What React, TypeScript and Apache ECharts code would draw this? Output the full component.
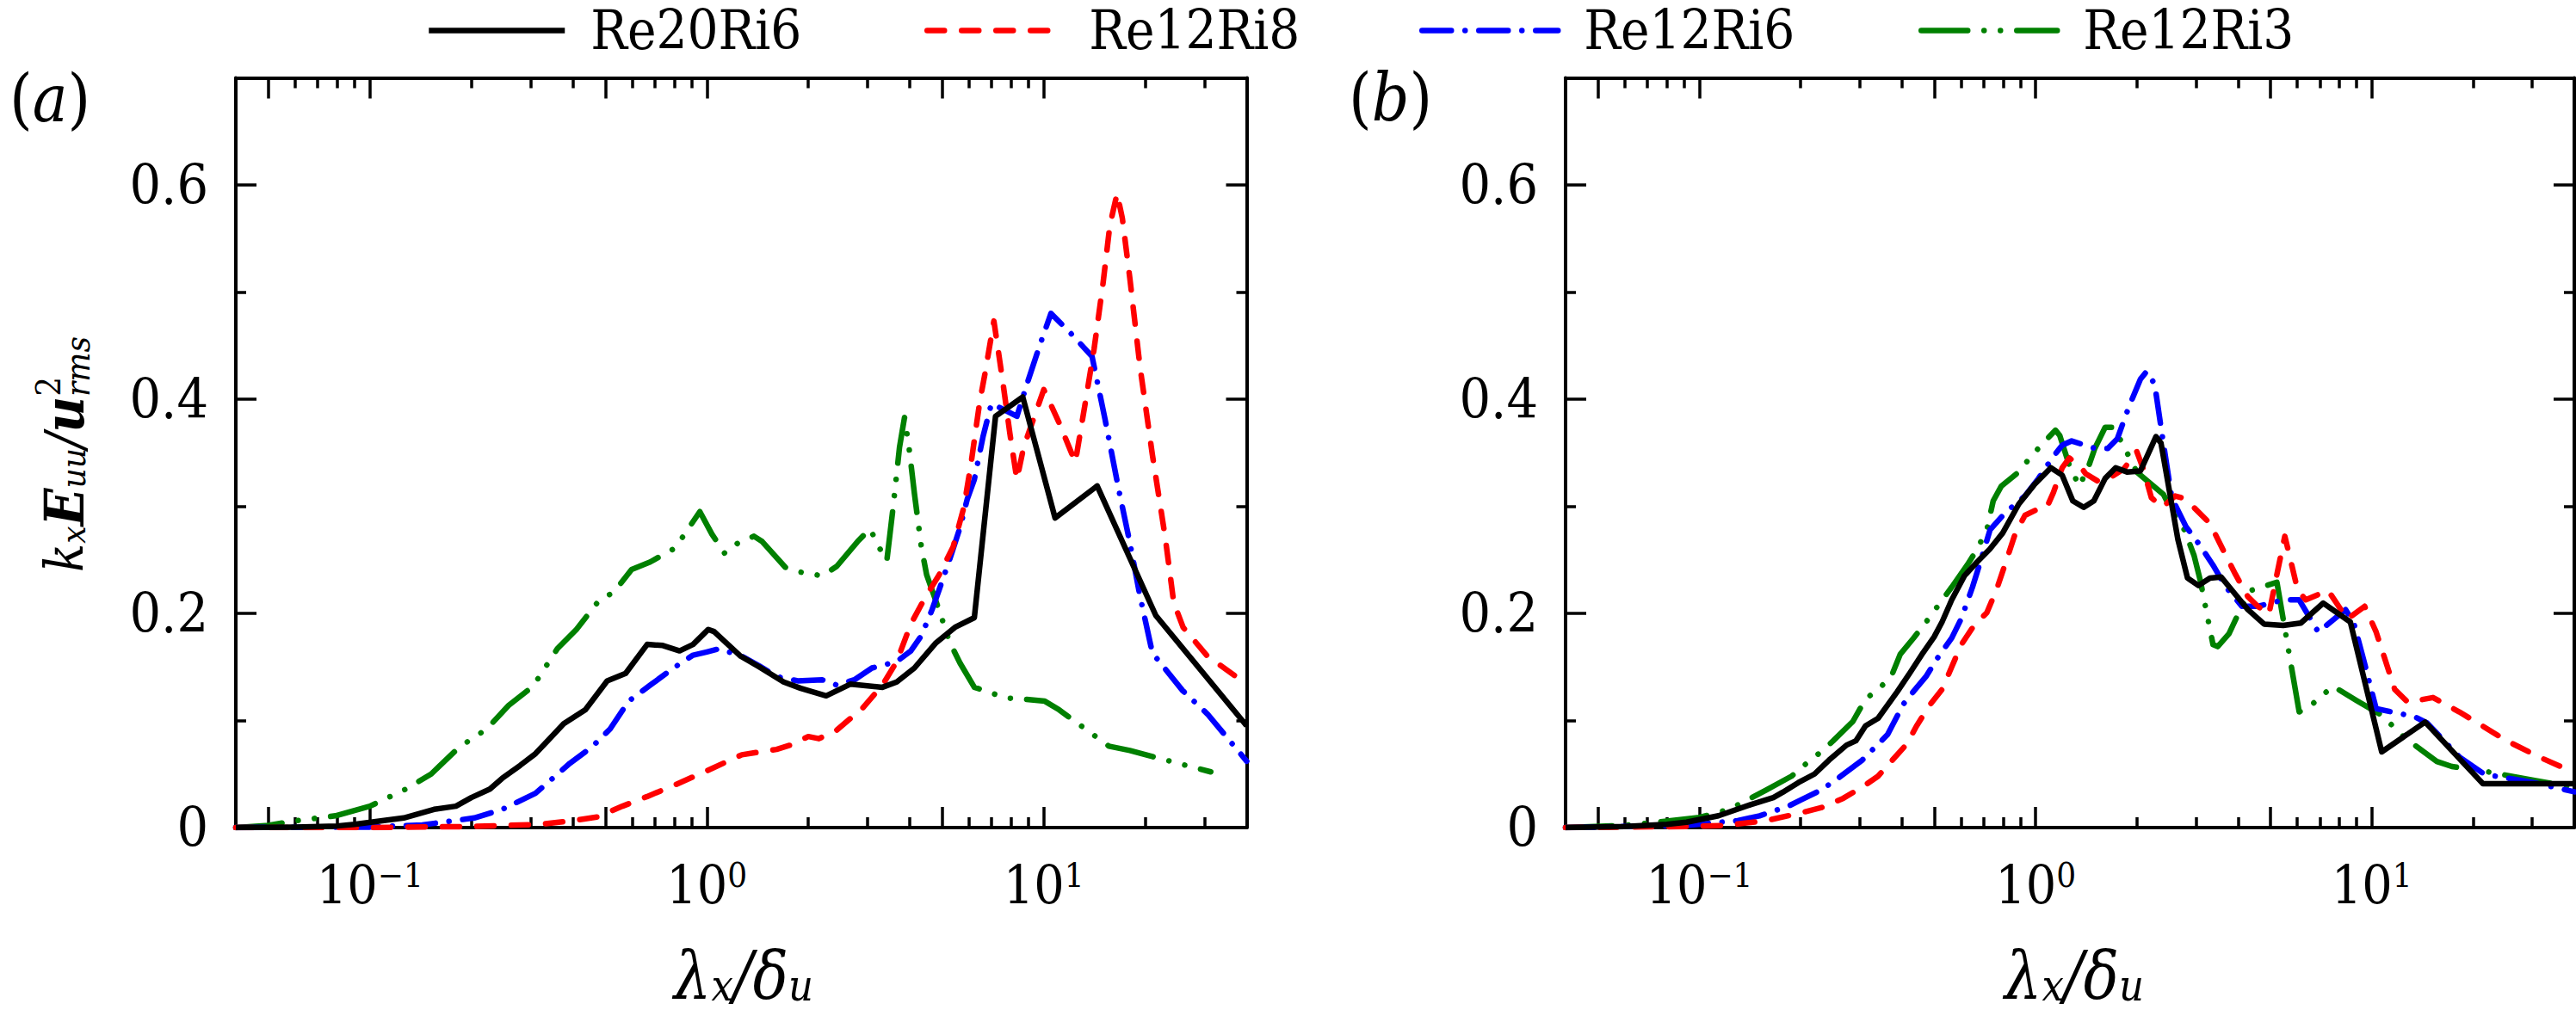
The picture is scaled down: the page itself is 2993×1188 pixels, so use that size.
import React, { useEffect, useRef } from 'react';
import * as echarts from 'echarts';

const FONT = "'DejaVu Serif Condensed', 'Liberation Serif', 'Times New Roman', Times, 'DejaVu Serif', serif";

const SERIES_NAMES = ['Re20Ri6', 'Re12Ri8', 'Re12Ri6', 'Re12Ri3'];
const SERIES_COLORS = ['#000000', '#ff0000', '#0000ff', '#008000'];
const LEGEND_LEFT = [495, 1074, 1649, 2229];

const X_MIN = 0.04;
const X_MAX = 40;
const X_LABEL_TICKS = [0.1, 1, 10];
const X_MAJOR_TICKS = [0.05, 0.1, 0.5, 1, 5, 10];
const X_MINOR_TICKS = [0.06, 0.07, 0.08, 0.09, 0.2, 0.3, 0.4, 0.6, 0.7, 0.8, 0.9, 2, 3, 4, 6, 7, 8, 9, 20, 30];
const Y_MIN = 0;
const Y_MAX = 0.7;
const Y_MAJOR_TICKS = [0, 0.2, 0.4, 0.6];
const Y_MINOR_TICKS = [0.1, 0.3, 0.5];

// ---------- panel (a) ----------
const A_RE20RI6_X = [0.04, 0.06, 0.08, 0.09, 0.126, 0.155, 0.18, 0.2, 0.227, 0.247, 0.279, 0.31, 0.339, 0.376, 0.436, 0.506, 0.574, 0.665, 0.74, 0.83, 0.91, 1.01, 1.05, 1.26, 1.43, 1.69, 1.9, 2.26, 2.67, 3.32, 3.66, 4.13, 4.77, 5.45, 6.22, 7.19, 8.66, 10.8, 14.4, 21.5, 40];
const A_RE20RI6_Y = [0, 0.0005, 0.0015, 0.003, 0.009, 0.017, 0.02, 0.028, 0.036, 0.046, 0.058, 0.069, 0.082, 0.097, 0.11, 0.137, 0.144, 0.171, 0.17, 0.165, 0.171, 0.185, 0.183, 0.16, 0.15, 0.136, 0.13, 0.123, 0.134, 0.131, 0.136, 0.149, 0.172, 0.187, 0.196, 0.384, 0.402, 0.289, 0.319, 0.198, 0.095];

const A_RE12RI8_X = [0.04, 0.1, 0.2, 0.318, 0.39, 0.474, 0.562, 0.665, 0.806, 1.0, 1.27, 1.61, 1.77, 2.0, 2.15, 2.43, 2.67, 2.87, 3.32, 3.66, 4.03, 4.43, 4.89, 5.38, 5.79, 6.07, 6.45, 6.69, 7.11, 7.55, 7.93, 8.32, 8.71, 9.38, 10.0, 11.1, 12.4, 13.3, 14.1, 15.0, 15.7, 16.5, 17.1, 18.0, 19.3, 21.0, 22.9, 24.3, 25.9, 30.6, 40];
const A_RE12RI8_Y = [0, 0, 0.001, 0.003, 0.006, 0.01, 0.02, 0.029, 0.04, 0.053, 0.068, 0.073, 0.077, 0.085, 0.083, 0.091, 0.102, 0.11, 0.133, 0.155, 0.19, 0.214, 0.236, 0.262, 0.299, 0.338, 0.397, 0.424, 0.473, 0.417, 0.368, 0.325, 0.355, 0.384, 0.409, 0.378, 0.341, 0.398, 0.447, 0.509, 0.562, 0.592, 0.569, 0.513, 0.43, 0.348, 0.272, 0.21, 0.187, 0.16, 0.134];

const A_RE12RI6_X = [0.04, 0.1, 0.143, 0.204, 0.247, 0.31, 0.392, 0.455, 0.516, 0.586, 0.679, 0.805, 0.91, 1.0, 1.09, 1.27, 1.43, 1.61, 1.86, 2.2, 2.43, 2.74, 3.09, 3.66, 4.03, 4.33, 4.66, 4.89, 5.25, 5.64, 5.93, 6.22, 6.6, 6.99, 8.32, 8.91, 9.72, 10.5, 11.9, 13.9, 15.2, 16.7, 18.0, 19.3, 21.0, 25.8, 30.6, 40];
const A_RE12RI6_Y = [0, 0.0005, 0.0025, 0.009, 0.017, 0.032, 0.06, 0.075, 0.092, 0.118, 0.133, 0.15, 0.161, 0.164, 0.167, 0.16, 0.151, 0.141, 0.137, 0.138, 0.133, 0.138, 0.149, 0.155, 0.165, 0.179, 0.2035, 0.222, 0.25, 0.28, 0.307, 0.325, 0.365, 0.396, 0.384, 0.414, 0.45, 0.48, 0.463, 0.44, 0.381, 0.315, 0.266, 0.216, 0.163, 0.128, 0.106, 0.062];

const A_RE12RI3_X = [0.04, 0.05, 0.059, 0.079, 0.1, 0.128, 0.152, 0.184, 0.222, 0.258, 0.305, 0.36, 0.41, 0.484, 0.527, 0.598, 0.679, 0.805, 0.953, 1.035, 1.13, 1.24, 1.38, 1.46, 1.71, 1.9, 2.2, 2.43, 2.8, 3.05, 3.24, 3.42, 3.57, 3.73, 3.86, 3.98, 4.13, 4.33, 4.49, 4.89, 5.25, 5.64, 6.22, 7.73, 8.71, 10.07, 11.1, 15.6, 18.0, 21.8, 31.3];
const A_RE12RI3_Y = [0, 0.002, 0.006, 0.011, 0.02, 0.036, 0.05, 0.075, 0.092, 0.114, 0.132, 0.167, 0.185, 0.214, 0.219, 0.241, 0.248, 0.261, 0.295, 0.274, 0.256, 0.266, 0.272, 0.267, 0.243, 0.2385, 0.235, 0.244, 0.267, 0.279, 0.262, 0.249, 0.299, 0.355, 0.383, 0.355, 0.312, 0.262, 0.236, 0.203, 0.1735, 0.1536, 0.131, 0.121, 0.12, 0.118, 0.11, 0.076, 0.072, 0.065, 0.052];

// ---------- panel (b) ----------
const B_RE20RI6_X = [0.04, 0.06, 0.08, 0.0916, 0.114, 0.142, 0.166, 0.177, 0.197, 0.22, 0.243, 0.274, 0.292, 0.312, 0.34, 0.388, 0.424, 0.462, 0.499, 0.527, 0.563, 0.614, 0.67, 0.731, 0.798, 0.891, 0.99, 1.11, 1.2, 1.29, 1.39, 1.49, 1.61, 1.73, 1.87, 2.05, 2.28, 2.36, 2.65, 2.83, 3.05, 3.3, 3.56, 3.84, 4.28, 4.78, 5.45, 6.15, 7.17, 8.63, 10.7, 14.4, 21.4, 40];
const B_RE20RI6_Y = [0, 0.001, 0.003, 0.005, 0.011, 0.0214, 0.028, 0.033, 0.042, 0.05, 0.063, 0.077, 0.081, 0.095, 0.102, 0.127, 0.145, 0.163, 0.178, 0.192, 0.2126, 0.235, 0.248, 0.26, 0.275, 0.302, 0.32, 0.336, 0.329, 0.305, 0.299, 0.305, 0.326, 0.336, 0.332, 0.333, 0.365, 0.359, 0.269, 0.233, 0.226, 0.233, 0.234, 0.2215, 0.2035, 0.19, 0.1887, 0.191, 0.2096, 0.192, 0.0707, 0.0985, 0.041, 0.041];

const B_RE12RI8_X = [0.04, 0.0916, 0.119, 0.158, 0.193, 0.23, 0.268, 0.305, 0.34, 0.372, 0.414, 0.442, 0.483, 0.527, 0.563, 0.601, 0.656, 0.716, 0.764, 0.816, 0.871, 0.93, 1.02, 1.08, 1.13, 1.2, 1.26, 1.35, 1.41, 1.54, 1.68, 1.83, 2.0, 2.09, 2.21, 2.38, 2.6, 2.71, 2.89, 3.3, 3.6, 3.93, 4.28, 4.58, 4.94, 5.22, 5.51, 5.69, 6.02, 6.36, 7.41, 8.45, 9.52, 10.3, 11.7, 12.8, 15.2, 18.2, 25.2, 31.4, 40];
const B_RE12RI8_Y = [0, 0.001, 0.002, 0.0065, 0.0125, 0.0185, 0.0274, 0.0378, 0.048, 0.0618, 0.078, 0.0946, 0.114, 0.129, 0.15, 0.1708, 0.1887, 0.2006, 0.2215, 0.248, 0.275, 0.2916, 0.2977, 0.299, 0.313, 0.336, 0.345, 0.338, 0.3304, 0.323, 0.3275, 0.335, 0.351, 0.335, 0.308, 0.299, 0.3096, 0.308, 0.302, 0.284, 0.26, 0.2364, 0.2155, 0.2066, 0.199, 0.2364, 0.272, 0.254, 0.2215, 0.2126, 0.2215, 0.1946, 0.2066, 0.1826, 0.129, 0.117, 0.1214, 0.108, 0.081, 0.066, 0.0514];

const B_RE12RI6_X = [0.04, 0.0916, 0.13, 0.151, 0.184, 0.201, 0.23, 0.256, 0.305, 0.333, 0.363, 0.405, 0.433, 0.472, 0.515, 0.563, 0.601, 0.649, 0.685, 0.732, 0.816, 0.93, 1.02, 1.12, 1.2, 1.28, 1.5, 1.64, 1.75, 1.89, 2.05, 2.14, 2.26, 2.38, 2.54, 2.8, 3.09, 3.37, 3.68, 4.11, 4.58, 5.45, 6.08, 6.93, 8.35, 8.82, 9.52, 10.3, 13.4, 14.6, 18.2, 21.6, 30.0, 40];
const B_RE12RI6_Y = [0, 0.002, 0.0065, 0.011, 0.02, 0.026, 0.035, 0.045, 0.063, 0.075, 0.087, 0.1155, 0.127, 0.141, 0.16, 0.177, 0.195, 0.2245, 0.248, 0.278, 0.2946, 0.3096, 0.326, 0.345, 0.357, 0.361, 0.354, 0.354, 0.363, 0.392, 0.4186, 0.426, 0.414, 0.366, 0.308, 0.281, 0.263, 0.245, 0.2245, 0.2066, 0.2066, 0.2126, 0.2126, 0.1826, 0.2035, 0.192, 0.153, 0.111, 0.1036, 0.0976, 0.066, 0.0498, 0.0423, 0.0334];

const B_RE12RI3_X = [0.04, 0.06, 0.08, 0.1, 0.114, 0.125, 0.142, 0.158, 0.188, 0.206, 0.23, 0.25, 0.286, 0.312, 0.34, 0.372, 0.396, 0.433, 0.472, 0.515, 0.563, 0.627, 0.67, 0.716, 0.748, 0.79, 0.891, 0.972, 1.06, 1.146, 1.18, 1.26, 1.35, 1.44, 1.5, 1.61, 1.71, 1.87, 2.0, 2.4, 2.54, 2.77, 2.96, 3.09, 3.37, 3.48, 3.76, 4.06, 4.38, 5.22, 5.45, 6.08, 6.5, 7.66, 9.02, 10.7, 12.5, 15.6, 17.3, 21.6, 30.7, 40];
const B_RE12RI3_Y = [0, 0.002, 0.006, 0.0095, 0.014, 0.0185, 0.0274, 0.035, 0.048, 0.0587, 0.0707, 0.081, 0.099, 0.12, 0.129, 0.141, 0.162, 0.1767, 0.1917, 0.208, 0.2245, 0.2454, 0.26, 0.278, 0.305, 0.3186, 0.332, 0.347, 0.36, 0.371, 0.366, 0.338, 0.3186, 0.338, 0.354, 0.3737, 0.3737, 0.35, 0.332, 0.311, 0.296, 0.278, 0.254, 0.2305, 0.1708, 0.169, 0.181, 0.2035, 0.2215, 0.229, 0.1946, 0.108, 0.1125, 0.132, 0.1185, 0.105, 0.084, 0.0618, 0.057, 0.0527, 0.0438, 0.0378];

const PANEL_A = [
  [A_RE20RI6_X, A_RE20RI6_Y],
  [A_RE12RI8_X, A_RE12RI8_Y],
  [A_RE12RI6_X, A_RE12RI6_Y],
  [A_RE12RI3_X, A_RE12RI3_Y],
];
const PANEL_B = [
  [B_RE20RI6_X, B_RE20RI6_Y],
  [B_RE12RI8_X, B_RE12RI8_Y],
  [B_RE12RI6_X, B_RE12RI6_Y],
  [B_RE12RI3_X, B_RE12RI3_Y],
];

const LINE_TYPES: any[] = ['solid', [20, 20], [34, 16, 0.01, 16], [54, 19, 0.01, 19, 0.01, 19]];
const LINE_WIDTH = 6.5;

const L = (v: number) => Math.log10(v);

const AXIS_COLOR = '#000';
const tickStyle = { color: AXIS_COLOR, width: 3.5 };
const lineStyleAxis = { color: AXIS_COLOR, width: 4 };

function expText(v: number) {
  const e = Math.round(v);
  return e < 0 ? '\u2212' + Math.abs(e) : String(e);
}

function makeXAxes(gridIndex: number) {
  const base = {
    type: 'value',
    gridIndex,
    min: L(X_MIN),
    max: L(X_MAX),
    splitLine: { show: false },
  };
  const major = { show: true, inside: true, length: 24, lineStyle: tickStyle, customValues: X_MAJOR_TICKS.map(L) };
  const minor = { show: true, inside: true, length: 12, lineStyle: tickStyle, customValues: X_MINOR_TICKS.map(L) };
  return [
    {
      ...base,
      position: 'bottom',
      axisLine: { show: true, onZero: false, lineStyle: lineStyleAxis },
      axisTick: major,
      axisLabel: {
        show: true,
        margin: 35,
        customValues: X_LABEL_TICKS.map(L),
        formatter: (v: number) => `{b|10}{s|${expText(v)}}`,
        rich: {
          b: { fontFamily: FONT, fontSize: 62, lineHeight: 62, color: '#000' },
          s: { fontFamily: FONT, fontSize: 40, lineHeight: 40, color: '#000', verticalAlign: 'top' },
        },
      },
    },
    { ...base, position: 'bottom', axisLine: { show: false, onZero: false }, axisTick: minor, axisLabel: { show: false } },
    { ...base, position: 'top', axisLine: { show: true, onZero: false, lineStyle: lineStyleAxis }, axisTick: major, axisLabel: { show: false } },
    { ...base, position: 'top', axisLine: { show: false, onZero: false }, axisTick: minor, axisLabel: { show: false } },
  ];
}

function makeYAxes(gridIndex: number) {
  const base = {
    type: 'value',
    gridIndex,
    min: Y_MIN,
    max: Y_MAX,
    splitLine: { show: false },
  };
  const major = { show: true, inside: true, length: 24, lineStyle: tickStyle, customValues: Y_MAJOR_TICKS };
  const minor = { show: true, inside: true, length: 12, lineStyle: tickStyle, customValues: Y_MINOR_TICKS };
  return [
    {
      ...base,
      position: 'left',
      axisLine: { show: true, onZero: false, lineStyle: lineStyleAxis },
      axisTick: major,
      axisLabel: {
        show: true,
        margin: 32,
        customValues: Y_MAJOR_TICKS,
        formatter: (v: number) => (v === 0 ? '0' : v.toFixed(1)),
        fontFamily: FONT,
        fontSize: 64,
        color: '#000',
      },
    },
    { ...base, position: 'left', axisLine: { show: false, onZero: false }, axisTick: minor, axisLabel: { show: false } },
    { ...base, position: 'right', axisLine: { show: true, onZero: false, lineStyle: lineStyleAxis }, axisTick: major, axisLabel: { show: false } },
    { ...base, position: 'right', axisLine: { show: false, onZero: false }, axisTick: minor, axisLabel: { show: false } },
  ];
}

function makeSeries(panel: number[][][], xAxisIndex: number, yAxisIndex: number) {
  const order = [3, 2, 1, 0];
  return order.map((i) => {
    const [xs, ys] = panel[i];
    return {
      type: 'line',
      name: SERIES_NAMES[i],
      xAxisIndex,
      yAxisIndex,
      data: xs.map((x, k) => [L(x), ys[k]]),
      symbol: 'none',
      showSymbol: false,
      silent: true,
      z: 3 + (3 - i),
      itemStyle: { color: SERIES_COLORS[i] },
      lineStyle: {
        color: SERIES_COLORS[i],
        width: LINE_WIDTH,
        type: LINE_TYPES[i],
        cap: i === 0 ? 'butt' : 'round',
        join: 'round',
      },
    };
  });
}

const titleRich = {
  i: { fontFamily: FONT, fontSize: 76, lineHeight: 76, fontStyle: 'italic', color: '#000' },
  sub: { fontFamily: FONT, fontSize: 50, lineHeight: 28, fontStyle: 'italic', color: '#000', verticalAlign: 'bottom' },
};

const yTitleRich = {
  i: { fontFamily: FONT, fontSize: 61, lineHeight: 62, fontStyle: 'italic', color: '#000' },
  bi: { fontFamily: FONT, fontSize: 64, lineHeight: 62, fontStyle: 'italic', fontWeight: 'bold', color: '#000' },
  sub: { fontFamily: FONT, fontSize: 40, lineHeight: 18, fontStyle: 'italic', color: '#000', verticalAlign: 'bottom' },
  sup: { fontFamily: FONT, fontSize: 40, lineHeight: 2, fontStyle: 'normal', color: '#000', verticalAlign: 'top', padding: [-7, 0, 0, 0] },
  subn: { fontFamily: FONT, fontSize: 40, lineHeight: 14, fontStyle: 'italic', color: '#000', verticalAlign: 'bottom', padding: [0, 0, -5, -23] },
};

const panelRich = {
  p: { fontFamily: FONT, fontSize: 76, lineHeight: 76, color: '#000' },
  l: { fontFamily: FONT, fontSize: 76, lineHeight: 76, fontStyle: 'italic', color: '#000' },
};

function buildOption(): any {
  return {
    animation: false,
    backgroundColor: '#ffffff',
    textStyle: { fontFamily: FONT },
    grid: [
      { left: 274, top: 90.5, width: 1174.5, height: 871.5, containLabel: false },
      { left: 1819, top: 90.5, right: 2, height: 871.5, containLabel: false },
    ],
    xAxis: [...makeXAxes(0), ...makeXAxes(1)],
    yAxis: [...makeYAxes(0), ...makeYAxes(1)],
    legend: SERIES_NAMES.map((n, i) => ({
      data: [n],
      left: LEGEND_LEFT[i],
      top: 4,
      padding: 0,
      itemWidth: 158,
      itemHeight: 20,
      itemGap: 0,
      selectedMode: false,
      itemStyle: { opacity: 0, borderWidth: 0 },
      lineStyle: { width: LINE_WIDTH },
      formatter: (name: string) => `{t|${name}}`,
      textStyle: {
        fontFamily: FONT,
        fontSize: 63,
        color: '#000',
        rich: {
          t: { fontFamily: FONT, fontSize: 63, lineHeight: 66, color: '#000', padding: [0, 0, 0, 25] },
        },
      },
    })),
    series: [...makeSeries(PANEL_A, 0, 0), ...makeSeries(PANEL_B, 4, 4)],
    graphic: [
      { type: 'text', x: 11, y: 114, style: { text: '{p|(}{l|a}{p|)}', rich: panelRich, align: 'left', verticalAlign: 'middle' } },
      { type: 'text', x: 1567, y: 113, style: { text: '{p|(}{l|b}{p|)}', rich: panelRich, align: 'left', verticalAlign: 'middle' } },
      { type: 'text', x: 864, y: 1133, style: { text: '{i|λ}{sub|x}{i|/δ}{sub|u}', rich: titleRich, align: 'center', verticalAlign: 'middle' } },
      { type: 'text', x: 2410, y: 1133, style: { text: '{i|λ}{sub|x}{i|/δ}{sub|u}', rich: titleRich, align: 'center', verticalAlign: 'middle' } },
      {
        type: 'text', x: 74, y: 528, rotation: Math.PI / 2,
        style: { text: '{i|k}{sub|x}{bi|E}{sub|uu}{i|/}{bi|u}{sup|2}{subn|rms}', rich: yTitleRich, align: 'center', verticalAlign: 'middle' },
      },
    ],
  };
}

export default function App() {
  const ref = useRef<HTMLDivElement>(null);
  useEffect(() => {
    if (!ref.current) return;
    const chart = echarts.init(ref.current, null, { renderer: 'svg' });
    chart.setOption(buildOption());
    return () => chart.dispose();
  }, []);
  return <div ref={ref} style={{ position: 'fixed', left: 0, top: 0, width: 2993, height: 1188, background: '#fff' }} />;
}
